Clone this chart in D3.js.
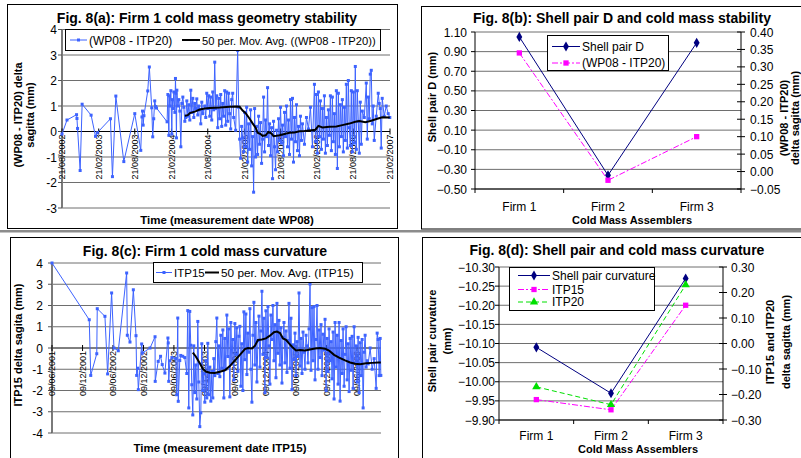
<!DOCTYPE html>
<html><head><meta charset="utf-8">
<script src="https://cdn.jsdelivr.net/npm/d3@7"></script>
<style>
body{margin:0;background:#fff;}
svg{display:block;font-family:"Liberation Sans",Arial,Helvetica,sans-serif;}
</style></head><body>
<svg id="fig" width="801" height="458"></svg>
<script>
// ---------- Fig. 8(a): (WP08 - ITP20) delta sagitta, Firm 1 ----------
const wpDelta = [
["2002-08-21",-0.10],["2002-09-15",0.45],["2002-11-02",0.66],["2002-11-04",0.51],["2002-11-07",0.12],
["2002-11-20",-1.53],["2002-11-30",1.07],["2003-01-14",0.64],["2003-02-05",-0.19],["2003-02-14",-0.05],
["2003-04-21",0.50],["2003-05-01",-1.77],["2003-05-18",1.39],["2003-06-27",-1.18],["2003-08-21",0.70],
["2003-09-20",-0.74],["2003-09-26",0.57],["2003-09-29",0.80],["2003-10-02",0.25],["2003-10-06",0.62],
["2003-10-25",1.59],["2003-11-02",2.53],["2003-11-14",0.93],["2003-11-19",-0.21],["2003-11-24",0.50],
["2003-11-29",1.20],["2003-12-04",0.98],["2003-12-08",0.92],["2004-01-30",0.38],
["2004-02-03",1.45],["2004-02-08",-0.15],["2004-02-10",1.40],["2004-02-13",1.00],["2004-02-18",1.60],
["2004-02-23",-0.10],["2004-02-25",1.25],["2004-02-28",0.90],["2004-03-04",1.55],["2004-03-09",0.75],
["2004-03-12",2.08],["2004-03-14",1.50],["2004-03-17",-0.25],["2004-03-19",1.62],["2004-03-24",1.00],
["2004-03-29",1.25],["2004-04-03",0.80],["2004-04-08",-0.60],["2004-04-13",1.10],["2004-04-18",1.35],
["2004-04-23",0.95],["2004-04-28",0.40],
["2004-05-03",0.55],["2004-05-08",1.20],["2004-05-13",0.60],["2004-05-18",1.05],["2004-05-23",0.45],
["2004-05-28",1.62],["2004-06-02",0.75],["2004-06-07",1.30],["2004-06-12",0.55],["2004-06-17",1.10],
["2004-06-22",0.90],["2004-06-27",1.28],["2004-07-02",0.65],["2004-07-07",1.00],["2004-07-12",0.85],
["2004-07-17",0.30],["2004-07-22",1.15],["2004-07-27",0.70],["2004-08-06",1.00],["2004-08-11",0.55],
["2004-08-16",1.50],["2004-08-21",0.90],["2004-08-26",1.40],["2004-08-31",0.60],["2004-09-05",1.35],
["2004-09-10",0.45],["2004-09-15",1.55],["2004-09-20",0.85],["2004-09-25",2.72],["2004-09-30",0.90],
["2004-10-05",1.40],["2004-10-10",0.15],["2004-10-15",1.30],["2004-10-20",0.50],["2004-10-25",1.45],
["2004-10-30",0.20],["2004-11-04",1.10],["2004-11-09",0.60],["2004-11-14",1.60],["2004-11-19",0.25],
["2004-11-24",1.55],["2004-11-29",0.40],["2004-12-04",1.50],["2004-12-09",0.70],["2004-12-14",0.10],
["2004-12-19",1.25],["2004-12-24",1.50],["2004-12-29",0.55],["2005-01-08",0.05],["2005-01-18",3.18],
["2005-01-23",0.95],["2005-01-28",-0.30],["2005-02-02",-1.05],["2005-02-07",0.20],["2005-02-12",-0.25],
["2005-02-17",-0.80],["2005-02-22",0.75],["2005-02-27",-0.60],["2005-03-04",0.95],["2005-03-09",-1.20],
["2005-03-14",0.30],["2005-03-19",-0.70],["2005-03-24",0.85],["2005-03-29",-1.35],["2005-04-03",-0.20],
["2005-04-08",-2.38],["2005-04-13",0.90],["2005-04-18",-1.00],["2005-04-23",0.20],["2005-04-28",-0.90],
["2005-05-03",0.60],["2005-05-08",-0.50],["2005-05-13",0.35],["2005-05-18",-1.25],["2005-05-23",-0.30],
["2005-05-28",1.35],["2005-06-02",-0.80],["2005-06-07",0.45],["2005-06-12",-0.20],["2005-06-17",1.72],
["2005-06-22",-0.55],["2005-06-27",0.30],["2005-07-02",-0.95],["2005-07-07",0.15],["2005-07-12",-1.85],
["2005-07-17",0.40],["2005-07-22",-0.60],["2005-07-27",-1.50],["2005-08-01",0.05],["2005-08-06",-0.80],
["2005-08-11",0.50],["2005-08-16",-0.35],["2005-08-21",0.95],["2005-08-26",-0.45],["2005-08-31",0.25],
["2005-09-05",-0.95],["2005-09-10",0.75],["2005-09-15",-0.20],["2005-09-20",1.00],["2005-09-25",-0.60],
["2005-09-30",0.45],["2005-10-05",-0.90],["2005-10-10",1.25],["2005-10-15",-0.30],["2005-10-20",1.30],
["2005-10-25",-1.20],["2005-10-30",0.55],["2005-11-04",-0.40],["2005-11-09",1.05],["2005-11-14",-0.75],
["2005-11-19",0.20],["2005-11-24",-0.95],["2005-11-29",0.60],["2005-12-04",-0.35],["2005-12-09",0.30],
["2005-12-19",-0.50],["2005-12-29",0.55],["2006-01-08",0.10],["2006-01-18",0.95],["2006-01-28",-0.60],
["2006-02-07",1.85],["2006-02-12",-0.40],["2006-02-17",1.45],["2006-02-22",-0.85],["2006-02-27",1.55],
["2006-03-04",-0.20],["2006-03-09",1.20],["2006-03-14",-0.70],["2006-03-19",0.90],["2006-03-24",-0.30],
["2006-03-29",1.40],["2006-04-03",-0.85],["2006-04-08",0.55],["2006-04-13",-0.55],["2006-04-18",0.85],
["2006-04-23",-0.15],["2006-04-28",1.40],["2006-05-03",-0.75],["2006-05-08",1.35],["2006-05-13",-0.40],
["2006-05-18",0.70],["2006-05-23",-0.90],["2006-05-28",1.60],["2006-06-02",-1.45],["2006-06-07",1.50],
["2006-06-12",-0.60],["2006-06-17",1.05],["2006-06-22",-0.20],["2006-06-27",1.25],["2006-07-02",-0.80],
["2006-07-07",0.95],["2006-07-12",-0.35],["2006-07-17",1.85],["2006-07-22",-0.65],["2006-07-27",2.00],
["2006-08-01",0.15],["2006-08-06",-0.55],["2006-08-11",1.60],["2006-08-16",-0.80],["2006-08-21",1.55],
["2006-08-26",-0.45],["2006-08-31",2.55],["2006-09-05",-0.70],["2006-09-10",1.60],["2006-09-15",0.40],
["2006-09-20",-0.85],["2006-09-25",1.15],["2006-09-30",-0.50],["2006-10-05",0.80],["2006-10-15",0.55],
["2006-10-25",1.90],["2006-10-30",-0.30],["2006-11-04",1.35],["2006-11-09",0.50],["2006-11-14",2.25],
["2006-11-19",2.40],["2006-11-24",0.30],["2006-11-29",1.00],["2006-12-04",-0.35],["2006-12-14",0.60],
["2006-12-24",1.50],["2006-12-29",1.10],["2007-01-03",0.90],["2007-01-08",-0.65],["2007-01-13",1.30],
["2007-01-23",0.60],["2007-02-02",1.00],["2007-02-12",0.70],["2007-02-20",0.55]
];
// 50-period moving average of the series above
const wpMovAvg = [
["2004-04-28",0.62],["2004-05-13",0.64],["2004-05-23",0.72],["2004-06-17",0.78],["2004-07-12",0.86],
["2004-08-06",0.90],["2004-08-31",0.92],["2004-10-20",0.94],["2004-12-09",0.97],["2005-01-13",0.98],
["2005-01-28",0.97],["2005-02-12",0.82],["2005-02-27",0.72],["2005-03-19",0.50],["2005-04-03",0.32],
["2005-04-18",0.15],["2005-04-28",-0.05],["2005-05-13",-0.10],["2005-05-23",-0.17],["2005-06-07",-0.15],
["2005-06-22",-0.02],["2005-07-07",-0.08],["2005-07-17",-0.18],["2005-08-01",-0.17],["2005-08-16",-0.15],
["2005-09-10",-0.10],["2005-10-05",-0.05],["2005-10-30",-0.04],["2005-11-24",0.01],["2005-12-19",0.02],
["2006-01-23",0.05],["2006-02-12",0.07],["2006-02-27",0.22],["2006-03-19",0.16],["2006-04-23",0.19],
["2006-05-28",0.20],["2006-06-27",0.25],["2006-08-01",0.31],["2006-08-31",0.38],["2006-09-20",0.41],
["2006-10-20",0.36],["2006-11-19",0.42],["2006-12-19",0.50],["2007-01-13",0.56],["2007-02-20",0.55]
];
const wpTickDates = ["2002-08-21","2003-02-21","2003-08-21","2004-02-21","2004-08-21",
  "2005-02-21","2005-08-21","2006-02-21","2006-08-21","2007-02-21"];
const wpYTicks = [-3,-2,-1,0,1,2,3,4];

// ---------- Fig. 8(c): ITP15 delta sagitta, Firm 1 ----------
const itp15Delta = [
["2001-06-09",4.00],["2002-01-18",1.33],["2002-01-27",-1.29],["2002-03-04",-0.27],["2002-03-07",1.85],
["2002-04-22",1.49],["2002-05-08",-1.22],["2002-06-01",2.59],["2002-06-15",0.00],["2002-07-11",-0.13],
["2002-08-30",3.53],["2002-09-03",0.60],["2002-09-19",0.28],["2002-10-09",2.74],["2002-10-25",0.58],
["2002-10-29",-1.29],["2002-11-03",-0.95],["2002-11-08",-1.96],["2002-11-28",0.19],["2002-12-02",-0.24],
["2003-01-17",0.00],["2003-02-16",0.53],["2003-02-17",-1.57],["2003-03-07",-0.63],["2003-03-21",-0.39],
["2003-03-31",-0.78],["2003-04-16",-1.18],["2003-05-04",0.47],["2003-05-06",0.24],["2003-05-09",-1.57],
["2003-05-16",-0.60],["2003-05-28",-0.45],
["2003-06-20",-0.50],["2003-06-26",-2.20],["2003-07-02",1.41],["2003-07-05",-2.51],["2003-07-14",-0.59],
["2003-07-20",-0.35],["2003-08-01",-0.39],["2003-08-13",-0.45],["2003-08-25",-1.20],["2003-08-31",1.76],
["2003-09-06",-2.82],["2003-09-12",1.72],["2003-09-18",0.13],["2003-09-24",-1.73],["2003-09-30",-3.15],
["2003-10-06",0.10],["2003-10-12",-2.10],["2003-10-18",-0.80],["2003-10-24",-2.40],["2003-10-30",1.25],
["2003-11-05",-1.60],["2003-11-11",-3.70],["2003-11-17",-3.05],["2003-11-23",0.20],["2003-11-29",-2.00],
["2003-12-05",-1.20],["2003-12-11",-2.55],["2003-12-17",-0.60],["2003-12-23",-2.35],["2003-12-29",0.22],
["2004-01-04",-2.20],["2004-01-10",-0.90],["2004-01-16",-2.50],["2004-01-22",-1.10],["2004-01-28",-2.35],
["2004-02-03",-0.50],["2004-02-09",-1.30],["2004-02-15",0.30],["2004-02-21",1.41],["2004-02-27",-1.20],
["2004-03-04",0.10],["2004-03-10",-1.35],["2004-03-16",0.60],["2004-03-22",-0.95],["2004-03-28",0.85],
["2004-04-03",-2.35],["2004-04-09",0.45],["2004-04-15",-1.00],["2004-04-21",1.55],["2004-04-27",-0.40],
["2004-05-03",0.90],["2004-05-09",-2.30],["2004-05-15",1.20],["2004-05-21",-0.75],["2004-05-27",0.40],
["2004-06-02",-1.50],["2004-06-08",1.15],["2004-06-14",-0.30],["2004-06-20",0.95],["2004-06-26",-1.10],
["2004-07-02",0.55],["2004-07-08",1.02],["2004-07-14",-1.80],["2004-07-20",0.20],["2004-07-26",-2.00],
["2004-08-01",1.70],["2004-08-07",-0.55],["2004-08-13",1.60],["2004-08-19",-1.25],["2004-08-25",0.70],
["2004-08-31",-0.20],["2004-09-06",1.85],["2004-09-12",-1.00],["2004-09-18",-2.55],["2004-09-24",0.60],
["2004-09-30",2.15],["2004-10-06",-0.80],["2004-10-12",1.20],["2004-10-18",-1.60],["2004-10-24",0.35],
["2004-10-30",1.50],["2004-11-05",-0.90],["2004-11-11",0.80],["2004-11-17",2.67],["2004-11-23",-0.30],
["2004-11-29",1.40],["2004-12-05",-2.10],["2004-12-11",1.75],["2004-12-17",-0.45],["2004-12-23",1.95],
["2004-12-29",0.10],["2005-01-04",-1.70],["2005-01-10",1.55],["2005-01-16",0.40],["2005-01-22",2.00],
["2005-01-28",-0.60],["2005-02-03",1.10],["2005-02-09",-1.40],["2005-02-15",2.10],["2005-02-21",-0.25],
["2005-02-27",1.30],["2005-03-05",-0.80],["2005-03-11",0.95],["2005-03-17",-1.65],["2005-03-23",0.50],
["2005-03-29",1.20],["2005-04-04",-0.70],["2005-04-10",0.80],["2005-04-16",-1.15],["2005-04-22",0.35],
["2005-04-28",2.10],["2005-05-04",-0.95],["2005-05-10",1.40],["2005-05-16",-1.96],["2005-05-22",0.15],
["2005-05-28",-0.55],["2005-06-03",0.70],["2005-06-09",-1.30],["2005-06-15",0.30],["2005-06-21",-0.40],
["2005-06-27",2.59],["2005-07-03",-0.85],["2005-07-09",0.45],["2005-07-15",-1.20],["2005-07-21",0.75],
["2005-07-27",-0.20],["2005-08-02",-1.00],["2005-08-08",0.60],["2005-08-14",0.10],["2005-08-20",-0.70],
["2005-08-26",0.90],["2005-09-01",3.01],["2005-09-07",-1.05],["2005-09-13",1.90],["2005-09-19",-0.60],
["2005-09-25",1.95],["2005-10-01",-1.50],["2005-10-07",0.40],["2005-10-13",2.00],["2005-10-19",-1.00],
["2005-10-25",0.85],["2005-10-31",-0.45],["2005-11-06",1.10],["2005-11-12",-1.30],["2005-11-18",0.65],
["2005-11-24",-0.10],["2005-11-30",1.35],["2005-12-06",-2.00],["2005-12-12",0.45],["2005-12-18",-1.10],
["2005-12-24",0.90],["2005-12-30",-0.60],["2006-01-05",0.30],["2006-01-11",-1.45],["2006-01-17",0.75],
["2006-01-23",-2.40],["2006-01-29",1.20],["2006-02-04",-0.90],["2006-02-10",0.60],["2006-02-16",-1.70],
["2006-02-22",1.20],["2006-02-28",-2.50],["2006-03-06",0.35],["2006-03-12",-1.20],["2006-03-18",0.90],
["2006-03-24",-1.80],["2006-03-30",-0.30],["2006-04-05",1.00],["2006-04-11",-1.50],["2006-04-17",0.20],
["2006-04-23",-2.05],["2006-04-29",0.45],["2006-05-05",-1.05],["2006-05-11",0.55],["2006-05-17",-1.90],
["2006-05-23",1.00],["2006-05-29",-0.70],["2006-06-04",0.10],["2006-06-10",-1.60],["2006-06-16",0.50],
["2006-06-22",-2.10],["2006-06-28",0.25],["2006-07-04",-1.30],["2006-07-10",0.40],["2006-07-16",-2.82],
["2006-07-22",-0.20],["2006-07-28",0.60],["2006-08-03",-0.90],["2006-08-09",-0.60],["2006-08-15",-0.75],
["2006-08-27",0.00],["2006-09-08",-1.00],["2006-09-20",-0.50],["2006-10-02",-1.90],["2006-10-08",0.70],
["2006-10-14",0.40],["2006-10-20",-1.30],["2006-10-26",0.45],["2006-10-30",-1.29]
];
// 50-period moving average of ITP15
const itp15MovAvg = [
["2003-09-30",-0.22],["2003-10-18",-0.40],["2003-11-11",-0.72],["2003-11-29",-0.98],["2003-12-17",-1.11],
["2004-01-10",-1.16],["2004-02-09",-1.18],["2004-03-10",-1.12],["2004-04-09",-1.05],["2004-05-09",-0.85],
["2004-06-08",-0.58],["2004-07-08",-0.32],["2004-08-07",-0.05],["2004-08-25",0.00],["2004-09-18",-0.02],
["2004-10-06",0.10],["2004-10-24",0.38],["2004-11-17",0.40],["2004-12-11",0.45],["2005-01-04",0.58],
["2005-01-28",0.74],["2005-02-15",0.77],["2005-03-05",0.70],["2005-03-23",0.45],["2005-04-10",0.38],
["2005-04-28",0.22],["2005-05-16",0.06],["2005-06-09",-0.12],["2005-07-03",-0.10],["2005-08-02",-0.12],
["2005-09-01",-0.07],["2005-10-01",-0.02],["2005-10-31",0.00],["2005-11-30",-0.03],["2005-12-24",-0.12],
["2006-01-23",-0.32],["2006-02-22",-0.45],["2006-03-30",-0.58],["2006-04-29",-0.68],["2006-05-29",-0.74],
["2006-06-28",-0.76],["2006-08-03",-0.72],["2006-09-08",-0.70],["2006-10-14",-0.68],["2006-10-30",-0.68]
];
const itpTickDates = ["2001-06-09","2001-12-09","2002-06-09","2002-12-09","2003-06-09","2003-12-09",
  "2004-06-09","2004-12-09","2005-06-09","2005-12-09","2006-06-09"];
const itpYTicks = [-4,-3,-2,-1,0,1,2,3,4];

// ---------- Fig. 8(b) and 8(d): per-assembler averages ----------
const firms = ["Firm 1","Firm 2","Firm 3"];
const shellPairD = [1.05, -0.36, 0.99];
const wpItp20Avg = [0.34, -0.025, 0.10];
const dLeftTicks = [-0.50,-0.30,-0.10,0.10,0.30,0.50,0.70,0.90,1.10];
const dRightTicks = [-0.05,0,0.05,0.10,0.15,0.20,0.25,0.30,0.35,0.40];

const shellCurv = [-10.09, -9.97, -10.27];
const itp15Avg = [-0.22, -0.26, 0.15];
const itp20Avg = [-0.17, -0.24, 0.23];
const cLeftTicks = [-10.30,-10.25,-10.20,-10.15,-10.10,-10.05,-10.00,-9.95,-9.90];
const cRightTicks = [-0.30,-0.20,-0.10,0,0.10,0.20,0.30];

// ---------- drawing ----------
const svg = d3.select("#fig");
const parse = d3.timeParse("%Y-%m-%d");
const fmtDate = d3.timeFormat("%d/%m/%Y");
const f2 = d3.format(".2f");
const BLUE = "#3d63ff", NAVY = "#000080", MAG = "#ff00ff", GREEN = "#00e000";
const GRID = "#6e6e6e";
const FS = 12;

function label(g, x, y, str, o = {}) {
  const t = g.append("text").attr("x", x).attr("y", y).text(str)
    .attr("font-size", o.size || FS)
    .attr("font-weight", o.bold ? "bold" : "normal")
    .attr("text-anchor", o.anchor || "middle")
    .attr("fill", "#000");
  if (o.rot) t.attr("transform", `rotate(${o.rot},${x},${y})`);
  return t;
}

// panel frames and separator
svg.append("rect").attr("x", 0).attr("y", 230).attr("width", 801).attr("height", 2.5).attr("fill", "#8c8c8c");
[[7.5,4.5,390,224],[421.5,6.5,420,222.5],[10.5,237.5,388,240],[422.5,237.5,420,240]].forEach(r =>
  svg.append("rect").attr("x", r[0]).attr("y", r[1]).attr("width", r[2]).attr("height", r[3])
    .attr("fill", "none").attr("stroke", "#000").attr("stroke-width", 1));

function timePanel(cfg) {
  const g = svg.append("g");
  const x = d3.scaleTime().domain(cfg.xDomain.map(parse)).range(cfg.xRange);
  const y = d3.scaleLinear().domain(cfg.yDomain).range(cfg.yRange);
  const [x0, x1] = cfg.xRange;
  // horizontal gridlines
  cfg.yTicks.forEach(v => g.append("line").attr("x1", x0).attr("x2", x1)
    .attr("y1", y(v)).attr("y2", y(v)).attr("stroke", v === 0 ? "#000" : GRID).attr("stroke-width", 1));
  // y axis
  g.append("line").attr("x1", x0).attr("x2", x0).attr("y1", cfg.yRange[1]).attr("y2", cfg.yRange[0])
    .attr("stroke", "#7a7a7a").attr("stroke-width", 2);
  cfg.yTicks.forEach(v => {
    g.append("line").attr("x1", x0 - 4).attr("x2", x0).attr("y1", y(v)).attr("y2", y(v)).attr("stroke", "#555");
    label(g, cfg.yLabelX, y(v) + 4.5, String(v), {anchor: "end"});
  });
  // date ticks on the zero line
  const y0 = y(0);
  cfg.xTicks.map(parse).forEach(d => {
    g.append("line").attr("x1", x(d)).attr("x2", x(d)).attr("y1", y0 - 3).attr("y2", y0 + 3).attr("stroke", "#000");
    label(g, x(d), y0 + 3, fmtDate(d), {anchor: "end", size: 9, rot: -90}).attr("dy", "0.35em");
  });
  // data series
  const pts = cfg.series.map(d => [x(parse(d[0])), y(d[1])]);
  g.append("path").attr("d", d3.line()(pts)).attr("fill", "none").attr("stroke", BLUE).attr("stroke-width", 1);
  g.selectAll(null).data(pts).join("rect")
    .attr("x", p => p[0] - 1.5).attr("y", p => p[1] - 1.5).attr("width", 3).attr("height", 3).attr("fill", BLUE);
  const avg = cfg.avg.map(d => [x(parse(d[0])), y(d[1])]);
  g.append("path").attr("d", d3.line()(avg)).attr("fill", "none").attr("stroke", "#000").attr("stroke-width", 2);
  // legend
  const L = cfg.legend;
  g.append("rect").attr("x", L.x).attr("y", L.y).attr("width", L.w).attr("height", L.h)
    .attr("fill", "#fff").attr("stroke", "#000");
  const ly = L.y + L.h / 2;
  g.append("line").attr("x1", L.s1[0]).attr("x2", L.s1[1]).attr("y1", ly).attr("y2", ly).attr("stroke", BLUE);
  g.append("rect").attr("x", (L.s1[0] + L.s1[1]) / 2 - 1.5).attr("y", ly - 1.5).attr("width", 3).attr("height", 3).attr("fill", BLUE);
  label(g, L.s1[1] + 2, ly + 4.5, L.t1, {anchor: "start", size: L.fs[0]});
  g.append("line").attr("x1", L.s2[0]).attr("x2", L.s2[1]).attr("y1", ly).attr("y2", ly).attr("stroke", "#000").attr("stroke-width", 2);
  label(g, L.s2[1] + 2, ly + 4.5, L.t2, {anchor: "start", size: L.fs[1]});
  // titles
  label(g, cfg.title[0], cfg.title[1], cfg.title[2], {bold: true, size: 14});
  label(g, cfg.xTitle[0], cfg.xTitle[1], cfg.xTitle[2], {bold: true, size: 11.5});
  cfg.yTitle.forEach(t => label(g, t[0], t[1], t[2], {bold: true, size: 11, rot: -90}));
}

timePanel({
  xDomain: ["2002-08-21", "2007-02-21"], xRange: [62, 390],
  yDomain: [-3, 4], yRange: [208, 29.5], yTicks: wpYTicks, yLabelX: 57,
  xTicks: wpTickDates, series: wpDelta, avg: wpMovAvg,
  legend: {x: 65.5, y: 29.5, w: 315, h: 21, s1: [70, 87], s2: [182, 200], fs: [12, 11.2],
    t1: "(WP08 - ITP20)", t2: "50 per. Mov. Avg. ((WP08 - ITP20))"},
  title: [207, 23, "Fig. 8(a): Firm 1 cold mass geometry stability"],
  xTitle: [227, 224, "Time (measurement date WP08)"],
  yTitle: [[22, 115, "(WP08 - ITP20) delta"], [34, 115, "sagitta (mm)"]]
});

timePanel({
  xDomain: ["2001-06-09", "2006-10-31"], xRange: [52, 381],
  yDomain: [-4, 4], yRange: [433, 263], yTicks: itpYTicks, yLabelX: 43,
  xTicks: itpTickDates, series: itp15Delta, avg: itp15MovAvg,
  legend: {x: 153.5, y: 262.5, w: 209, h: 20, s1: [156, 172], s2: [205, 219], fs: [11.5, 11.8],
    t1: "ITP15", t2: "50 per. Mov. Avg. (ITP15)"},
  title: [205, 256, "Fig. 8(c): Firm 1 cold mass curvature"],
  xTitle: [220, 452, "Time (measurement date ITP15)"],
  yTitle: [[22, 345, "ITP15 delta sagita (mm)"]]
});

// category panels with two value axes
function catPanel(cfg) {
  const g = svg.append("g");
  const x = d3.scaleBand().domain(firms).range(cfg.xRange);
  const yl = d3.scaleLinear().domain(cfg.lDomain).range(cfg.yRange);
  const yr = d3.scaleLinear().domain(cfg.rDomain).range(cfg.yRange);
  const [x0, x1] = cfg.xRange, [yb, yt] = cfg.yRange;
  cfg.lTicks.forEach(v => g.append("line").attr("x1", x0).attr("x2", x1)
    .attr("y1", yl(v)).attr("y2", yl(v)).attr("stroke", GRID));
  // axes
  g.append("line").attr("x1", x0).attr("x2", x0).attr("y1", yt).attr("y2", yb).attr("stroke", "#000");
  g.append("line").attr("x1", x1).attr("x2", x1).attr("y1", yt).attr("y2", yb).attr("stroke", "#000");
  g.append("line").attr("x1", x0).attr("x2", x1).attr("y1", yb).attr("y2", yb).attr("stroke", "#000");
  cfg.lTicks.forEach(v => {
    g.append("line").attr("x1", x0 - 4).attr("x2", x0).attr("y1", yl(v)).attr("y2", yl(v)).attr("stroke", "#000");
    label(g, cfg.lLabelX, yl(v) + 4.5, f2(v), {anchor: "end"});
  });
  cfg.rTicks.forEach(v => {
    g.append("line").attr("x1", x1 - 4).attr("x2", x1 + 4).attr("y1", yr(v)).attr("y2", yr(v)).attr("stroke", "#000");
    label(g, cfg.rLabelX, yr(v) + 4.5, f2(v), {anchor: "start"});
  });
  [x0, x0 + x.bandwidth(), x0 + 2 * x.bandwidth(), x1].forEach(t =>
    g.append("line").attr("x1", t).attr("x2", t).attr("y1", yb).attr("y2", yb + 4).attr("stroke", "#000"));
  firms.forEach(f => label(g, x(f) + x.bandwidth() / 2, cfg.catY, f));
  // series
  const cx = f => x(f) + x.bandwidth() / 2;
  cfg.series.forEach(s => {
    const sc = s.axis === "l" ? yl : yr;
    const pts = firms.map((f, i) => [cx(f), sc(s.values[i])]);
    g.append("path").attr("d", d3.line()(pts)).attr("fill", "none").attr("stroke", s.color)
      .attr("stroke-width", 1).attr("stroke-dasharray", s.dash || null);
    g.selectAll(null).data(pts).join("path")
      .attr("transform", p => `translate(${p[0]},${p[1]})`)
      .attr("d", d3.symbol(s.symbol, s.size)).attr("fill", s.color);
  });
  // legend
  const L = cfg.legend;
  g.append("rect").attr("x", L.x).attr("y", L.y).attr("width", L.w).attr("height", L.h)
    .attr("fill", "#fff").attr("stroke", "#000");
  cfg.series.forEach((s, i) => {
    const ly = L.rows[i];
    g.append("line").attr("x1", L.s[0]).attr("x2", L.s[1]).attr("y1", ly).attr("y2", ly)
      .attr("stroke", s.color).attr("stroke-dasharray", s.dash || null);
    g.append("path").attr("transform", `translate(${(L.s[0] + L.s[1]) / 2},${ly})`)
      .attr("d", d3.symbol(s.symbol, s.size)).attr("fill", s.color);
    label(g, L.s[1] + 2, ly + 4.3, s.name, {anchor: "start"});
  });
  label(g, cfg.title[0], cfg.title[1], cfg.title[2], {bold: true, size: 14});
  label(g, cfg.xTitle[0], cfg.xTitle[1], "Cold Mass Assemblers", {bold: true, size: 11});
  cfg.yTitles.forEach(t => label(g, t[0], t[1], t[2], {bold: true, size: 11, rot: -90}));
}

catPanel({
  xRange: [475, 741], yRange: [189, 32],
  lDomain: [-0.5, 1.1], rDomain: [-0.05, 0.4], lTicks: dLeftTicks, rTicks: dRightTicks,
  lLabelX: 467, rLabelX: 750, catY: 210.5,
  series: [
    {name: "Shell pair D", values: shellPairD, axis: "l", color: NAVY, symbol: d3.symbolDiamond, size: 30},
    {name: "(WP08 - ITP20)", values: wpItp20Avg, axis: "r", color: MAG, symbol: d3.symbolSquare, size: 28, dash: "6,2,2,2"}
  ],
  legend: {x: 547.5, y: 35.5, w: 121, h: 35, s: [552, 580], rows: [46.5, 63]},
  title: [622, 23, "Fig. 8(b): Shell pair D and cold mass stability"],
  xTitle: [632, 223.5],
  yTitles: [[436, 97, "Shell pair D (mm)"], [788, 118, "(WP08 - ITP20)"], [799, 118, "delta sagitta (mm)"]]
});

catPanel({
  xRange: [499, 723], yRange: [420, 267],
  lDomain: [-9.90, -10.30], rDomain: [-0.30, 0.30], lTicks: cLeftTicks, rTicks: cRightTicks,
  lLabelX: 495, rLabelX: 731, catY: 440,
  series: [
    {name: "Shell pair curvature", values: shellCurv, axis: "l", color: NAVY, symbol: d3.symbolDiamond, size: 30},
    {name: "ITP15", values: itp15Avg, axis: "r", color: MAG, symbol: d3.symbolSquare, size: 28, dash: "6,2,2,2"},
    {name: "ITP20", values: itp20Avg, axis: "r", color: GREEN, symbol: d3.symbolTriangle, size: 30, dash: "5,3"}
  ],
  legend: {x: 509.5, y: 267.5, w: 145, h: 43, s: [518, 550], rows: [275.5, 289.5, 302]},
  title: [617, 255, "Fig. 8(d): Shell pair and cold mass curvature"],
  xTitle: [638, 453],
  yTitles: [[436, 341, "Shell pair curvature"], [451, 341, "(mm)"], [774, 342, "ITP15 and ITP20"], [790, 342, "delta sagitta (mm)"]]
});
</script>
</body></html>
